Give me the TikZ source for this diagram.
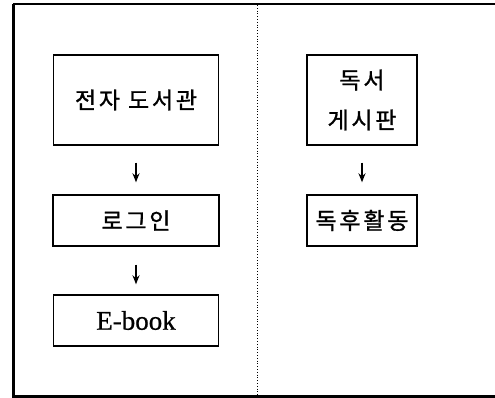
\documentclass[tikz,border=0pt]{standalone}
\usepackage{fontspec}
\setmainfont{Liberation Serif}
\newfontfamily\kr[LetterSpace=12,FakeBold=1.2]{Noto Sans CJK KR}
\newfontfamily\lat[FakeBold=0.8]{Liberation Serif}
\usetikzlibrary{arrows.meta}
\begin{document}
\begin{tikzpicture}[x=1pt,y=-1pt,
  box/.style={draw, line width=1.4pt, inner sep=0pt, align=center,
    font={\kr\fontsize{23}{40}\selectfont}},
  flow/.style={-{Stealth[length=9pt,width=7pt]}, line width=1.7pt}]
\useasboundingbox (0,0) rectangle (495,398);
% frame
\draw[line width=1.5pt] (13,4) -- (495,4);
\draw[line width=3pt] (13,4) -- (13,396) -- (495,396);
\draw[line width=0.8pt, dotted] (257,5) -- (257,395);
% left column
\node[box, minimum width=165, minimum height=90] (lib) at (136,100) {전자 도서관};
\node[box, minimum width=166, minimum height=51] (login) at (136,220.5) {로그인};
\node[box, minimum width=165, minimum height=51, font={\lat\fontsize{27}{30}\selectfont}] (ebook) at (136,320.5) {E-book};
% right column
\node[box, minimum width=110, minimum height=90] (board) at (362,100) {독서\\게시판};
\node[box, minimum width=110, minimum height=51] (after) at (362,220.5) {독후활동};
% arrows
\draw[flow] ([yshift=-17pt]lib.south) -- ([yshift=12pt]login.north);
\draw[flow] ([yshift=-18pt]login.south) -- ([yshift=10pt]ebook.north);
\draw[flow] ([yshift=-17pt]board.south) -- ([yshift=12pt]after.north);
\end{tikzpicture}
\end{document}
